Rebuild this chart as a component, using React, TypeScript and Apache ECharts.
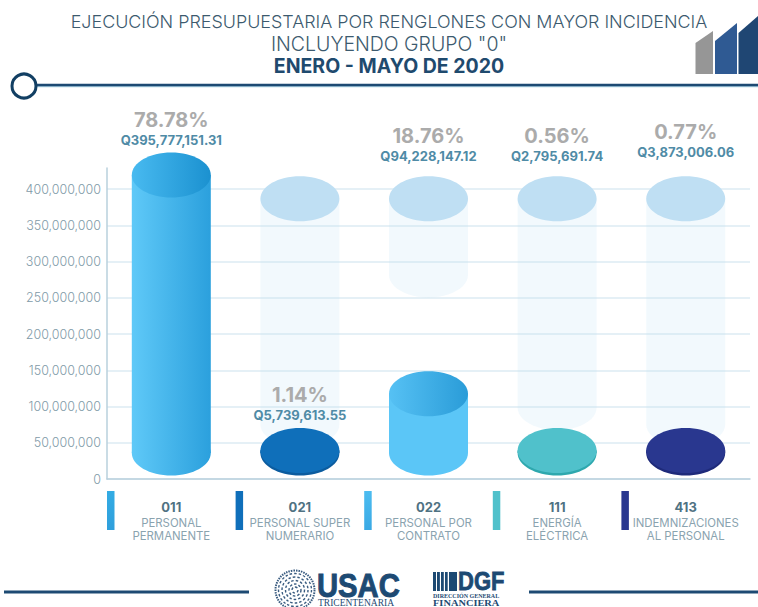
import React, { useEffect, useRef } from "react";
import * as echarts from "echarts";

const titleLines = ["EJECUCIÓN PRESUPUESTARIA POR RENGLONES CON MAYOR INCIDENCIA", 'INCLUYENDO GRUPO "0"', "ENERO - MAYO DE 2020"];
const codes = ["011", "021", "022", "111", "413"];
const names = ["PERSONAL\nPERMANENTE", "PERSONAL SUPER\nNUMERARIO", "PERSONAL POR\nCONTRATO", "ENERGÍA\nELÉCTRICA", "INDEMNIZACIONES\nAL PERSONAL"];
const amounts = [395777151.31, 5739613.55, 94228147.12, 2795691.74, 3873006.06];
const percents = ["78.78%", "1.14%", "18.76%", "0.56%", "0.77%"];
// faint "ghost" cylinders behind the bars: lower and upper value
const ghostLow: (number | null)[] = [null, 52000000, 258000000, 75000000, 52000000];
const ghostHigh: (number | null)[] = [null, 363000000, 363000000, 363000000, 363000000];

const bodyStart = ["#5fc9f8", "#0b5c9f", "#5bc6f7", "#2ea8ae", "#1e2a7a"];
const bodyEnd = ["#2ba0dd", "#0b5c9f", "#5bc6f7", "#2ea8ae", "#1e2a7a"];
const topStart = ["#48baf0", "#0f6fba", "#56c1f4", "#50c1cb", "#29378f"];
const topEnd = ["#1b91d0", "#0f6fba", "#2a9cd8", "#50c1cb", "#29378f"];
const swatchStart = ["#33ace4", "#0f6fba", "#4cbcf0", "#50c1cb", "#29378f"];
const swatchEnd = ["#2f9fdc", "#0f6fba", "#3aa9e4", "#50c1cb", "#29378f"];
const labelGap = [13, 13, 20, 20, 24];

const FONT = "Inter";
const RX = 39.5;
const RY = 22.5;
const LIFT = 17; // the drawn top sits above the value because of the perspective
const BASE_ABOVE_AXIS = 26; // centre of the bottom ellipse above the axis line
const MIN_THICK = 2.5;

const grad = (a: string, b: string) =>
  new echarts.graphic.LinearGradient(0, 0, 1, 0, [{ offset: 0, color: a }, { offset: 1, color: b }]);

export default function App() {
  const ref = useRef<HTMLDivElement>(null);
  useEffect(() => {
    document.body.style.margin = "0";
    document.body.style.background = "#fff";
    const chart = echarts.init(ref.current!, undefined, { renderer: "svg" });

    const renderGhost = (_: any, api: any) => {
      const i = api.value(0);
      const cx = api.coord([i, 0])[0];
      const low = api.coord([i, api.value(1)])[1] - LIFT;
      const high = api.coord([i, api.value(2)])[1] - LIFT;
      const pts: number[][] = [[cx - RX, high], [cx + RX, high]];
      for (let k = 0; k <= 24; k++) {
        const a = (k / 24) * Math.PI;
        pts.push([cx + RX * Math.cos(a), low + RY * Math.sin(a)]);
      }
      return {
        type: "group",
        children: [
          { type: "polygon", shape: { points: pts }, style: { fill: "rgba(190,223,243,0.2)" } },
          { type: "ellipse", shape: { cx, cy: high, rx: RX, ry: RY }, style: { fill: "#bfdff3" } },
        ],
      };
    };

    const renderBar = (_: any, api: any) => {
      const i = api.value(0);
      const [cx, vy] = api.coord([i, api.value(1)]);
      const axisY = api.coord([i, 0])[1];
      const band = api.size([1, 0])[0];
      const base = axisY - BASE_ABOVE_AXIS;
      const top = Math.min(vy - LIFT, base - MIN_THICK);
      const body = grad(bodyStart[i], bodyEnd[i]);
      const gh = ghostHigh[i];
      const ghostTop = gh == null ? Infinity : api.coord([i, gh])[1] - LIFT;
      const visibleTop = Math.min(i === 1 ? top : ghostTop, top) - RY;
      const amtY = visibleTop - labelGap[i];
      const amt = "Q" + amounts[i].toLocaleString("en-US", { minimumFractionDigits: 2, maximumFractionDigits: 2 });
      const sx = cx - band / 2;
      return {
        type: "group",
        children: [
          { type: "ellipse", shape: { cx, cy: base, rx: RX, ry: RY }, style: { fill: body } },
          { type: "rect", shape: { x: cx - RX, y: top, width: RX * 2, height: base - top }, style: { fill: body } },
          { type: "ellipse", shape: { cx, cy: top, rx: RX, ry: RY }, style: { fill: grad(topStart[i], topEnd[i]) } },
          { type: "text", style: { x: cx, y: amtY, text: amt, align: "center", verticalAlign: "middle", fill: "#4f8ba6", font: `700 13px ${FONT}` } },
          { type: "text", style: { x: cx, y: amtY - 20, text: percents[i], align: "center", verticalAlign: "middle", fill: "#ababab", font: `700 20px ${FONT}` } },
          {
            type: "rect",
            shape: { x: sx, y: axisY + 12, width: 7.5, height: 39 },
            style: { fill: new echarts.graphic.LinearGradient(0, 0, 0, 1, [{ offset: 0, color: swatchStart[i] }, { offset: 1, color: swatchEnd[i] }]) },
          },
        ],
      };
    };

    const navy = "#1d4a73";
    const sealRings = [19.5, 16.5, 13, 9.5, 6, 3].map((r, k) => ({
      type: "circle",
      shape: { cx: 295, cy: 590, r },
      style: { fill: "none", stroke: "#3a5c80", lineWidth: k === 0 ? 2 : 1.4, lineDash: k === 0 ? [1.5, 1] : [2.5, 2] },
    }));
    const stripes = [433, 437, 441, 445, 449, 453].map((x, k) => ({
      type: "rect",
      shape: { x, y: 572, width: 3 - k * 0.1 + (k > 3 ? 1.5 : 0), height: 19 },
      style: { fill: navy },
    }));

    chart.setOption({
      animation: false,
      backgroundColor: "#ffffff",
      tooltip: { show: false },
      title: [
        { text: titleLines[0], left: 389, top: 12, padding: 0, textAlign: "center", textStyle: { fontFamily: FONT, fontWeight: 300, fontSize: 17.9, color: "#3c5a6e" } },
        { text: titleLines[1], left: 389, top: 33.5, padding: 0, textAlign: "center", textStyle: { fontFamily: FONT, fontWeight: 300, fontSize: 19.5, color: "#3c5a6e" } },
        { text: titleLines[2], left: 389, top: 55.5, padding: 0, textAlign: "center", textStyle: { fontFamily: FONT, fontWeight: 700, fontSize: 19.5, color: "#1f4a6e" } },
      ],
      grid: { left: 107, top: 168, width: 643, height: 311, containLabel: false },
      xAxis: {
        type: "category",
        data: codes.map((c, i) => `{code|${c}}\n{name|${names[i].split("\n").join("}\n{name|")}}`),
        axisLine: { lineStyle: { color: "#b9d0dd", width: 1.5 } },
        axisTick: { show: false },
        axisLabel: {
          interval: 0,
          margin: 17.5,
          rich: {
            code: { fontFamily: FONT, fontWeight: 700, fontSize: 13, color: "#4f7283", lineHeight: 20, align: "center" },
            name: { fontFamily: FONT, fontWeight: 400, fontSize: 11.4, color: "#8aa3af", lineHeight: 13, align: "center" },
          },
        },
      },
      yAxis: {
        type: "value",
        min: 0,
        max: 429000000,
        interval: 50000000,
        axisLine: { show: true, lineStyle: { color: "#b9d0dd", width: 1.5 } },
        axisTick: { show: false },
        axisLabel: {
          showMaxLabel: false,
          margin: 6,
          fontFamily: FONT,
          fontWeight: 300,
          fontSize: 12.5,
          color: "#7f9aa8",
          formatter: (v: number) => v.toLocaleString("en-US"),
        },
        splitLine: { show: true, showMaxLine: false, lineStyle: { color: "#dcebf3", width: 1.5 } },
      },
      series: [
        {
          type: "custom",
          name: "ghost",
          renderItem: renderGhost,
          encode: { x: 0, y: 1 },
          data: codes.map((_, i) => [i, ghostLow[i], ghostHigh[i]]).filter((d) => d[1] != null),
          silent: true,
        },
        {
          type: "custom",
          name: "Ejecución",
          renderItem: renderBar,
          encode: { x: 0, y: 1 },
          data: amounts.map((v, i) => [i, v]),
          silent: true,
        },
      ],
      graphic: [
        { type: "line", shape: { x1: 34, y1: 86.5, x2: 758, y2: 86.5 }, style: { stroke: "#a9cfe0", lineWidth: 1.5 } },
        { type: "line", shape: { x1: 34, y1: 85, x2: 758, y2: 85 }, style: { stroke: navy, lineWidth: 2.5 } },
        { type: "circle", shape: { cx: 24, cy: 86, r: 12 }, style: { fill: "#fff", stroke: "#123f63", lineWidth: 3 } },
        { type: "polygon", shape: { points: [[695.5, 74], [695.5, 43], [713, 31], [713, 74]] }, style: { fill: "#969696" } },
        { type: "polygon", shape: { points: [[715, 74], [715, 41], [737, 23], [737, 74]] }, style: { fill: "#2f5a93" } },
        { type: "polygon", shape: { points: [[738.5, 74], [738.5, 33], [758, 16], [758, 74]] }, style: { fill: "#1f4673" } },
        { type: "line", shape: { x1: 4, y1: 592, x2: 249, y2: 592 }, style: { stroke: navy, lineWidth: 3 } },
        { type: "line", shape: { x1: 529, y1: 592, x2: 758, y2: 592 }, style: { stroke: navy, lineWidth: 3 } },
        ...sealRings,
        { type: "text", x: 317, y: 568, scaleX: 0.86, style: { text: "USAC", fill: navy, stroke: navy, lineWidth: 1, font: "700 34px 'Liberation Sans'" } },
        { type: "text", x: 318, y: 598, style: { text: "TRICENTENARIA", fill: navy, font: "400 9.5px 'Liberation Serif'" } },
        ...stripes,
        { type: "text", x: 458, y: 569, scaleX: 0.88, style: { text: "DGF", fill: navy, stroke: navy, lineWidth: 0.8, font: "700 25px 'Liberation Sans'" } },
        { type: "text", x: 433, y: 593, style: { text: "DIRECCIÓN GENERAL", fill: navy, font: "700 6px 'Liberation Serif'" } },
        { type: "text", x: 433, y: 599, scaleX: 1.3, style: { text: "FINANCIERA", fill: navy, font: "700 8px 'Liberation Serif'" } },
      ],
    });
    return () => chart.dispose();
  }, []);
  return <div ref={ref} style={{ position: "absolute", left: 0, top: 0, width: 758, height: 607, overflow: "hidden" }} />;
}
